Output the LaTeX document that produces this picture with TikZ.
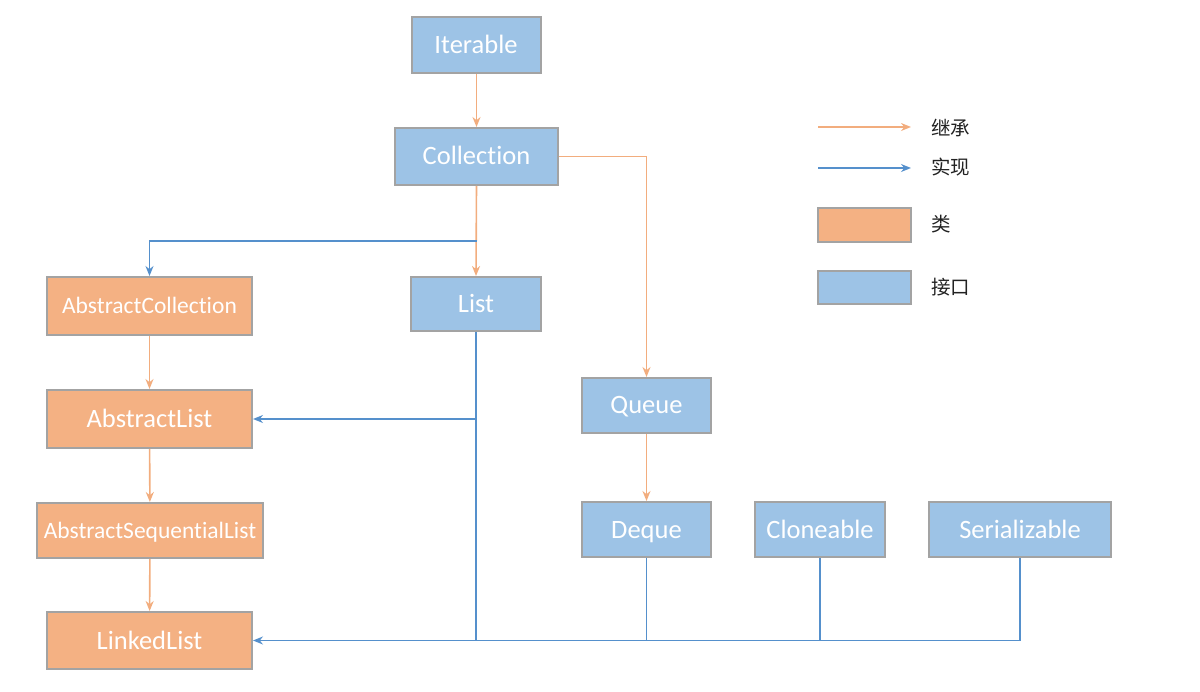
\documentclass[tikz,border=0pt]{standalone}
\usepackage{fontspec}
\setmainfont{Carlito}[Ligatures={NoCommon}]
\newfontfamily\cjk{Noto Sans CJK SC}
\usetikzlibrary{arrows.meta}
\definecolor{ifill}{HTML}{9DC3E6}
\definecolor{cfill}{HTML}{F4B183}
\definecolor{bord}{HTML}{A3A3A3}
\definecolor{inh}{HTML}{F2AD7E}
\definecolor{impl}{HTML}{5590CC}
\definecolor{legtxt}{HTML}{222222}
\begin{document}
\begin{tikzpicture}[x=1pt,y=-1pt,
  box/.style={draw=bord,line width=2pt,inner sep=0pt,text=white,text height=17pt,text depth=0pt,font=\fontsize{26.5}{30}\selectfont},
  smallbox/.style={text height=15pt,font=\fontsize{23.5}{27}\selectfont},
  iface/.style={box,fill=ifill},
  cls/.style={box,fill=cfill},
  inharr/.style={draw=inh,line width=1.6pt,-{Stealth[length=10pt,width=8pt]}},
  implline/.style={draw=impl,line width=1.6pt},
  implarr/.style={implline,-{Stealth[length=10pt,width=8pt]}},
  legend/.style={text=legtxt,font=\cjk\fontsize{19.5}{22}\selectfont,anchor=west,inner sep=0pt}
]
\useasboundingbox (0,0) rectangle (1200,692);

% class nodes
\node[iface,minimum width=129,minimum height=56] (iter) at (476,45) {Iterable};
\node[iface,minimum width=163,minimum height=57] (coll) at (476.5,156.5) {Collection};
\node[cls,smallbox,minimum width=205,minimum height=58] (acoll) at (149.5,306) {AbstractCollection};
\node[iface,minimum width=130,minimum height=54] (list) at (476,304) {List};
\node[cls,minimum width=205,minimum height=58] (alist) at (149.5,419) {AbstractList};
\node[iface,minimum width=129,minimum height=55] (queue) at (646.5,405.5) {Queue};
\node[cls,smallbox,minimum width=226,minimum height=55] (aseq) at (150,530.5) {AbstractSequentialList};
\node[iface,minimum width=129,minimum height=55] (deque) at (646.5,529.5) {Deque};
\node[iface,minimum width=130,minimum height=55] (clone) at (820,529.5) {Cloneable};
\node[iface,minimum width=182,minimum height=55] (ser) at (1020,529.5) {Serializable};
\node[cls,minimum width=205,minimum height=57] (llist) at (149.5,640.5) {LinkedList};

% inheritance
\draw[inharr] (iter.south -| coll.south) -- (coll.north);
\draw[inharr] (coll.east) -| (queue.north);
\draw[inharr] (coll.south) -- (list.north);
\draw[inharr] (acoll) -- (alist);
\draw[inharr] (alist) -- (aseq);
\draw[inharr] (aseq) -- (llist);
\draw[inharr] (queue) -- (deque);

% implementation
\coordinate (j1) at (476.5,241);
\draw[implarr] (j1) -| (acoll.north);
\draw[implarr] (list.south |- alist.east) -- (alist.east);
\draw[implline] (list.south) -- (list.south |- llist.east);
\draw[implarr] (ser.south) |- (llist.east);
\draw[implline] (deque.south) -- (deque.south |- llist.east);
\draw[implline] (clone.south) -- (clone.south |- llist.east);

% legend
\coordinate (la1) at (818,127);
\coordinate (la2) at (911,127);
\coordinate (lb1) at (818,168);
\coordinate (lb2) at (911,168);
\draw[inharr] (la1) -- (la2);
\draw[implarr] (lb1) -- (lb2);
\node[legend] (t1) at (931,128) {继承};
\node[legend] (t2) at (931,167) {实现};
\node[cls,minimum width=93,minimum height=34] (lc) at (864.5,225) {};
\node[iface,minimum width=93,minimum height=33] (li) at (864.5,287.5) {};
\node[legend] (t3) at (931,224) {类};
\node[legend] (t4) at (931,287) {接口};
\end{tikzpicture}
\end{document}
